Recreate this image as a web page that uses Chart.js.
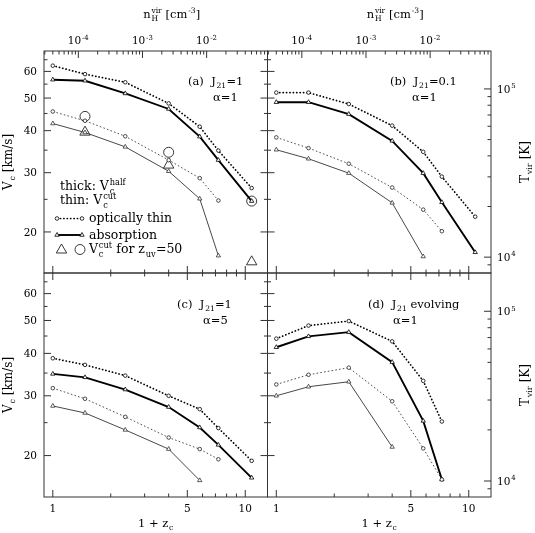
<!DOCTYPE html>
<html>
<head>
<meta charset="utf-8">
<script src="https://cdn.jsdelivr.net/npm/chart.js@4.4.0/dist/chart.umd.min.js"></script>
<style>
html, body { margin: 0; padding: 0; background: #fff; }
#wrap { position: relative; width: 535px; height: 533px; }
#wrap canvas { position: absolute; left: 0; top: 0; }
</style>
</head>
<body>
<div id="wrap">
  <canvas id="pa" width="535" height="533"></canvas>
  <canvas id="pb" width="535" height="533"></canvas>
  <canvas id="pc" width="535" height="533"></canvas>
  <canvas id="pd" width="535" height="533"></canvas>
</div>
<script>
// =========================
// Data
// =========================

// 1 + z_c of the sample points
const zc = [1, 1.47, 2.38, 4.0, 5.8, 7.25, 10.8];

// (a) J21 = 1, alpha = 1
const aHalfThin = [62.4, 58.9, 55.7, 48.2, 41.1, 34.9, 27.0];
const aHalfAbs  = [56.7, 56.3, 51.6, 46.4, 38.4, 32.7, 24.7];
const aCutThin  = [45.6, 42.8, 38.5, 32.7, 28.9, 24.8];
const aCutAbs   = [42.0, 39.5, 35.8, 30.3, 25.1, 17.0];
// V_c^cut for z_uv = 50
const zuvZ      = [1.47, 4.0, 10.8];
const zuvTri    = [39.6, 31.6, 16.3];
const zuvCirc   = [44.1, 34.5, 24.7];

// (b) J21 = 0.1, alpha = 1
const bHalfThin = [51.9, 51.9, 48.0, 41.4, 34.6, 29.2, 22.2];
const bHalfAbs  = [48.6, 48.6, 44.8, 37.3, 29.9, 24.5, 17.4];
const bCutThin  = [38.2, 35.5, 31.9, 27.1, 23.3, 20.1];
const bCutAbs   = [35.1, 33.0, 29.9, 24.4, 16.9];

// (c) J21 = 1, alpha = 5
const cHalfThin = [38.7, 37.0, 34.4, 30.0, 27.4, 24.1, 19.3];
const cHalfAbs  = [34.8, 34.0, 31.3, 27.8, 24.2, 21.5, 17.2];
const cCutThin  = [31.6, 29.4, 26.0, 22.6, 20.9, 19.5];
const cCutAbs   = [28.0, 26.7, 23.8, 20.9, 16.9];

// (d) J21 evolving, alpha = 1
const dHalfThin = [44.2, 48.3, 49.8, 43.4, 33.2, 25.2];
const dHalfAbs  = [41.7, 44.9, 46.2, 37.7, 25.3, 17.0];
const dCutThin  = [32.4, 34.6, 36.3, 28.9, 21.0, 17.0];
const dCutAbs   = [30.0, 31.9, 33.0, 21.2];

// ticks
const zTicks  = [1, 2, 3, 4, 5, 6, 7, 8, 9, 10];
const zMajor  = [1, 5, 10];
const vTicks  = [20, 25, 30, 35, 40, 45, 50, 55, 60, 65];
const vMajor  = [20, 30, 40, 50, 60];
const nTicks  = [3e-5, 4e-5, 5e-5, 6e-5, 7e-5, 8e-5, 9e-5,
                 1e-4, 2e-4, 3e-4, 4e-4, 5e-4, 6e-4, 7e-4, 8e-4, 9e-4,
                 1e-3, 2e-3, 3e-3, 4e-3, 5e-3, 6e-3, 7e-3, 8e-3, 9e-3,
                 1e-2, 2e-2, 3e-2, 4e-2, 5e-2, 6e-2, 7e-2, 8e-2];
const nMajor  = [1e-4, 1e-3, 1e-2];
const nLabels = ['-4', '-3', '-2'];
const tTicks  = [9e3, 1e4, 2e4, 3e4, 4e4, 5e4, 6e4, 7e4, 8e4, 9e4, 1e5];
const tMajor  = [1e4, 1e5];
const tLabels = ['4', '5'];

// secondary axes: n_H^vir = nCoef (1+z)^3 , T_vir = tCoef Vc^2
const nCoef = 4e-5;
const tCoef = 35.3;

// =========================
// Layout
// =========================

const W = 535, H = 533;
const FONT = '"DejaVu Serif", "Liberation Serif", serif';

// =========================
// Helpers
// =========================

const pts = (xs, vals) => vals.map((v, i) => ({ x: xs[i], y: v }));

function drawRich(ctx, segs, x, y, size, align) {
    const small = size * 0.66;
    let w = 0;
    const parts = segs.map(s => {
        if (typeof s === 'string') {
            ctx.font = size + 'px ' + FONT;
            const pw = ctx.measureText(s).width;
            w += pw;
            return { s, pw };
        }
        ctx.font = small + 'px ' + FONT;
        const pw = Math.max(s.sub ? ctx.measureText(s.sub).width : 0,
                            s.sup ? ctx.measureText(s.sup).width : 0) + 1;
        w += pw;
        return { s, pw };
    });
    let cx = align === 'center' ? x - w / 2 : align === 'right' ? x - w : x;
    ctx.textAlign = 'left';
    ctx.textBaseline = 'alphabetic';
    parts.forEach(p => {
        if (typeof p.s === 'string') {
            ctx.font = size + 'px ' + FONT;
            ctx.fillText(p.s, cx, y);
        } else {
            ctx.font = small + 'px ' + FONT;
            if (p.s.sup) ctx.fillText(p.s.sup, cx + 0.8, y - size * 0.42);
            if (p.s.sub) ctx.fillText(p.s.sub, cx + 0.8, y + size * 0.28);
        }
        cx += p.pw;
    });
}

function tri(ctx, x, y, r) {
    ctx.beginPath();
    ctx.moveTo(x, y - r);
    ctx.lineTo(x + 0.866 * r, y + 0.5 * r);
    ctx.lineTo(x - 0.866 * r, y + 0.5 * r);
    ctx.closePath();
}

// =========================
// Dataset styles
// =========================

const halfThin = vals => ({
    data: pts(zc, vals), borderColor: '#000', borderWidth: 1.7,
    borderDash: [0.2, 3.2], borderCapStyle: 'round',
    pointStyle: 'circle', pointRadius: 1.8, pointBorderWidth: 0.8,
    pointBorderColor: '#000', pointBackgroundColor: '#fff'
});
const halfAbs = vals => ({
    data: pts(zc, vals), borderColor: '#000', borderWidth: 1.9,
    pointStyle: 'triangle', pointRadius: 2.5, pointBorderWidth: 0.8,
    pointBorderColor: '#000', pointBackgroundColor: '#fff'
});
const cutThin = vals => ({
    data: pts(zc, vals), borderColor: '#222', borderWidth: 0.8,
    borderDash: [1.6, 2.2],
    pointStyle: 'circle', pointRadius: 1.8, pointBorderWidth: 0.8,
    pointBorderColor: '#222', pointBackgroundColor: '#fff'
});
const cutAbs = vals => ({
    data: pts(zc, vals), borderColor: '#333', borderWidth: 0.9,
    pointStyle: 'triangle', pointRadius: 2.5, pointBorderWidth: 0.8,
    pointBorderColor: '#333', pointBackgroundColor: '#fff'
});
const bigMark = (vals, style, r) => ({
    data: pts(zuvZ, vals), showLine: false, borderColor: '#222',
    pointStyle: style, pointRadius: r, pointBorderWidth: 0.9,
    pointBorderColor: '#222', pointBackgroundColor: 'rgba(0,0,0,0)'
});

// =========================
// Frame / ticks / text plugin
// =========================

function framePlugin(p) {
    return {
        id: 'frame',
        afterDatasetsDraw(chart) {
            const ctx = chart.ctx, a = chart.chartArea;
            const xs = chart.scales.x, ys = chart.scales.y;
            const line = (x1, y1, x2, y2) => {
                ctx.beginPath(); ctx.moveTo(x1, y1); ctx.lineTo(x2, y2); ctx.stroke();
            };
            ctx.save();
            ctx.setLineDash([]);
            ctx.strokeStyle = '#333';
            ctx.lineWidth = 1;
            ctx.strokeRect(a.left, a.top, a.right - a.left, a.bottom - a.top);

            zTicks.forEach(v => {
                const px = xs.getPixelForValue(v), len = zMajor.includes(v) ? 7 : 3.5;
                line(px, a.bottom, px, a.bottom - len);
                if (!p.top) line(px, a.top, px, a.top + len);
            });
            if (p.top) nTicks.forEach(n => {
                const px = xs.getPixelForValue(Math.cbrt(n / nCoef)), len = nMajor.includes(n) ? 7 : 3.5;
                if (px < a.left || px > a.right) return;
                line(px, a.top, px, a.top + len);
            });
            vTicks.forEach(v => {
                const py = ys.getPixelForValue(v), len = vMajor.includes(v) ? 7 : 3.5;
                line(a.left, py, a.left + len, py);
                if (p.left) line(a.right, py, a.right - len, py);
            });
            if (!p.left) tTicks.forEach(t => {
                const py = ys.getPixelForValue(Math.sqrt(t / tCoef)), len = tMajor.includes(t) ? 7 : 3.5;
                if (py < a.top || py > a.bottom) return;
                line(a.right, py, a.right - len, py);
            });

            // tick labels
            ctx.fillStyle = '#000';
            const cxp = (a.left + a.right) / 2, cyp = (a.top + a.bottom) / 2;
            if (p.top) {
                nMajor.forEach((n, i) => {
                    const px = xs.getPixelForValue(Math.cbrt(n / nCoef));
                    drawRich(ctx, ['10', { sup: nLabels[i] }], px, 44, 10.5, 'center');
                });
                drawRich(ctx, ['n', { sub: 'H', sup: 'vir' }, ' [cm', { sup: '-3' }, ']'], cxp + 16, 18, 11.5, 'center');
            } else {
                zMajor.forEach(v => {
                    drawRich(ctx, [String(v)], xs.getPixelForValue(v), a.bottom + 15, 10.5, 'center');
                });
                drawRich(ctx, ['1 + z', { sub: 'c' }], cxp, 527, 11.5, 'center');
            }
            if (p.left) {
                vMajor.forEach(v => {
                    drawRich(ctx, [String(v)], a.left - 7, ys.getPixelForValue(v) + 3.7, 10.5, 'right');
                });
                ctx.save();
                ctx.translate(8, cyp);
                ctx.rotate(-Math.PI / 2);
                drawRich(ctx, ['V', { sub: 'c' }, ' [km/s]'], 0, 4, 12, 'center');
                ctx.restore();
            } else {
                tMajor.forEach((t, i) => {
                    const py = ys.getPixelForValue(Math.sqrt(t / tCoef));
                    drawRich(ctx, ['10', { sup: tLabels[i] }], a.right + 6, py + 3.7, 10.5, 'left');
                });
                ctx.save();
                ctx.translate(525, cyp);
                ctx.rotate(-Math.PI / 2);
                drawRich(ctx, ['T', { sub: 'vir' }, ' [K]'], 0, 4, 12, 'center');
                ctx.restore();
            }

            // panel tag
            drawRich(ctx, p.tag, p.tagX, p.tagY, 11.5, 'left');
            drawRich(ctx, [p.alpha], p.alphaX, p.tagY + 16, 11.5, 'left');

            // legend (panel a only)
            if (p.legend) {
                drawRich(ctx, ['thick: V', { sub: 'c', sup: 'half' }], 60, 190, 12.5, 'left');
                drawRich(ctx, ['thin: V', { sub: 'c', sup: 'cut' }], 60, 204, 12.5, 'left');
                drawRich(ctx, ['optically thin'], 89, 222, 12.5, 'left');
                drawRich(ctx, ['absorption'], 89, 239, 12.5, 'left');
                drawRich(ctx, ['V', { sub: 'c', sup: 'cut' }, ' for z', { sub: 'uv' }, '=50'], 89, 253, 12.5, 'left');

                ctx.strokeStyle = '#000';
                ctx.lineWidth = 1.7;
                ctx.lineCap = 'round';
                ctx.setLineDash([0.2, 3.2]);
                line(57, 218.5, 82, 218.5);
                ctx.setLineDash([]);
                ctx.lineCap = 'butt';
                ctx.lineWidth = 1.9;
                line(57, 235, 82, 235);
                ctx.lineWidth = 0.8;
                ctx.fillStyle = '#fff';
                [57, 82].forEach(x => {
                    ctx.beginPath(); ctx.arc(x, 218.5, 1.8, 0, Math.PI * 2); ctx.fill(); ctx.stroke();
                    tri(ctx, x, 235, 2.5); ctx.fill(); ctx.stroke();
                });
                ctx.strokeStyle = '#222';
                ctx.lineWidth = 0.9;
                tri(ctx, 61.5, 250, 6); ctx.stroke();
                ctx.beginPath(); ctx.arc(80, 249.5, 5, 0, Math.PI * 2); ctx.stroke();
            }
            ctx.restore();
        }
    };
}

// =========================
// Charts
// =========================

function makePanel(id, p, datasets) {
    return new Chart(document.getElementById(id), {
        type: 'line',
        data: { datasets },
        options: {
            responsive: false,
            animation: false,
            devicePixelRatio: 1,
            layout: { padding: { left: p.x0, right: W - p.x1, top: p.y0, bottom: H - p.y1 } },
            plugins: { legend: { display: false }, tooltip: { enabled: false } },
            elements: { line: { tension: 0 } },
            scales: {
                x: { type: 'logarithmic', min: 0.9, max: 13.05, display: false },
                y: { type: 'logarithmic', min: 15.1, max: 69, display: false }
            }
        },
        plugins: [framePlugin(p)]
    });
}

makePanel('pa', {
    x0: 44, x1: 267.5, y0: 51, y1: 273, top: true, left: true, legend: true,
    tag: ['(a)  J', { sub: '21' }, '=1'], tagX: 188, tagY: 85, alpha: 'α=1', alphaX: 213
}, [
    cutThin(aCutThin), cutAbs(aCutAbs), halfThin(aHalfThin), halfAbs(aHalfAbs),
    bigMark(zuvTri, 'triangle', 6), bigMark(zuvCirc, 'circle', 5)
]);

makePanel('pb', {
    x0: 267.5, x1: 491, y0: 51, y1: 273, top: true, left: false,
    tag: ['(b)  J', { sub: '21' }, '=0.1'], tagX: 390, tagY: 85, alpha: 'α=1', alphaX: 412
}, [
    cutThin(bCutThin), cutAbs(bCutAbs), halfThin(bHalfThin), halfAbs(bHalfAbs)
]);

makePanel('pc', {
    x0: 44, x1: 267.5, y0: 273, y1: 497, top: false, left: true,
    tag: ['(c)  J', { sub: '21' }, '=1'], tagX: 177, tagY: 308, alpha: 'α=5', alphaX: 203
}, [
    cutThin(cCutThin), cutAbs(cCutAbs), halfThin(cHalfThin), halfAbs(cHalfAbs)
]);

makePanel('pd', {
    x0: 267.5, x1: 491, y0: 273, y1: 497, top: false, left: false,
    tag: ['(d)  J', { sub: '21' }, ' evolving'], tagX: 368, tagY: 308, alpha: 'α=1', alphaX: 393
}, [
    cutThin(dCutThin), cutAbs(dCutAbs), halfThin(dHalfThin), halfAbs(dHalfAbs)
]);
</script>
</body>
</html>
